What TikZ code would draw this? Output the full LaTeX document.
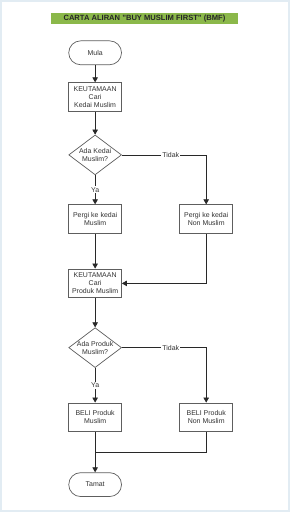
\documentclass[tikz,border=0pt]{standalone}
\usepackage{fontspec}
\setmainfont{Liberation Sans}
\usetikzlibrary{shapes.geometric,arrows.meta}
\definecolor{judulhijau}{RGB}{139,184,74}
\definecolor{bingkai}{RGB}{226,236,243}
\definecolor{garis}{RGB}{40,40,40}
\tikzset{
  teks/.style={font=\fontsize{7}{8.2}\selectfont, text=black!80},
  kotak/.style={teks, draw=garis!75, line width=0.7pt, minimum width=53pt, minimum height=29pt, align=center, inner sep=1pt},
  mulatamat/.style={teks, draw=garis!75, line width=0.7pt, rounded corners=12pt, minimum width=53pt, minimum height=24pt},
  soalan/.style={teks, draw=garis!75, line width=0.7pt, diamond, aspect=1.32, inner sep=-2pt, minimum width=53pt, minimum height=40pt, align=center},
  aliran/.style={draw=garis, line width=0.7pt, -{Triangle[width=5.5pt,length=5pt]}},
  sambung/.style={draw=garis, line width=0.7pt},
  label/.style={teks, fill=white, inner sep=1pt}
}
\begin{document}
\begin{tikzpicture}[x=1pt,y=-1pt]
  % Background and frame
  \fill[white] (0,0) rectangle (289,512);
  \draw[bingkai, line width=2pt] (0,0) rectangle (289,512);
  \useasboundingbox (0,0) rectangle (289,512);

  % Title
  \node[fill=judulhijau, minimum width=188pt, minimum height=11.5pt, inner sep=0pt,
        font=\bfseries\fontsize{7.6}{9}\selectfont, text=black!85] (tajuk) at (144,17.3)
        {CARTA ALIRAN "BUY MUSLIM FIRST" (BMF)};

  % Left column
  \node[mulatamat] (mula) at (94.5,52) {Mula};
  \node[kotak] (kedai) at (94.5,96.5) {KEUTAMAAN\\Cari\\Kedai Muslim};
  \node[soalan] (adakedai) at (94.5,154.5) {Ada Kedai\\Muslim?};
  \node[kotak] (kedaimuslim) at (94.5,219) {Pergi ke kedai\\Muslim};
  \node[kotak] (produk) at (94.5,283.5) {KEUTAMAAN\\Cari\\Produk Muslim};
  \node[soalan] (adaproduk) at (94.5,348) {Ada Produk\\Muslim?};
  \node[kotak] (belimuslim) at (94.5,418) {BELI Produk\\Muslim};
  \node[mulatamat] (tamat) at (94.5,485.5) {Tamat};

  % Right column
  \node[kotak] (kedainon) at (206,219) {Pergi ke kedai\\Non Muslim};
  \node[kotak] (belinon) at (206,418) {BELI Produk\\Non Muslim};
  \coordinate (gabung) at (94.5,453);

  % Connectors
  \draw[aliran] (mula) -- (kedai);
  \draw[aliran] (kedai) -- (adakedai);
  \draw[aliran] (adakedai) -- node[label] {Ya} (kedaimuslim);
  \draw[aliran] (adakedai.east) -| node[label, pos=0.29] {Tidak} (kedainon.north);
  \draw[aliran] (kedaimuslim) -- (produk);
  \draw[aliran] (kedainon.south) |- (produk.east);
  \draw[aliran] (produk) -- (adaproduk);
  \draw[aliran] (adaproduk) -- node[label] {Ya} (belimuslim);
  \draw[aliran] (adaproduk.east) -| node[label, pos=0.29] {Tidak} (belinon.north);
  \draw[aliran] (belimuslim) -- (tamat);
  \draw[sambung] (belinon.south) |- (gabung);
\end{tikzpicture}
\end{document}
